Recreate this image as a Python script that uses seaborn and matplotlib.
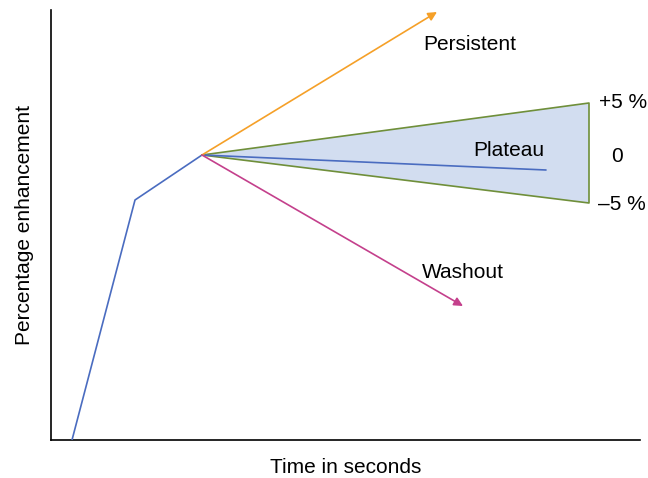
import matplotlib
matplotlib.use("Agg")
import matplotlib.pyplot as plt
import seaborn as sns
import pandas as pd

sns.set_theme(style="white")
plt.rcParams["font.family"] = ["Liberation Sans", "DejaVu Sans"]

# Initial uptake curve (time, enhancement) in arbitrary units
uptake_t = [21, 84, 151]
uptake_e = [0, 240, 285]

# Delayed-phase kinetic curves starting from the peak
peak = (151, 285)
persistent_end = (386, 428)
washout_end = (412, 134)
plateau_end = (495, 270)
plateau_upper = (538, 337)
plateau_lower = (538, 237)

band_labels = ["+5 %", "0", "\u20135 %"]
band_levels = [338, 285, 236]
band_x = [572, 566, 571]

blue = "#4a6cc0"
orange = "#f5a028"
magenta = "#c4408c"
green = "#6f8f3a"
fill = "#d2ddf0"

fig = plt.figure(figsize=(6.48, 4.78), dpi=100)
ax = fig.add_axes([51 / 648, 38 / 478, 589 / 648, 430 / 478])

# plateau band
ax.fill([peak[0], plateau_upper[0], plateau_lower[0]],
        [peak[1], plateau_upper[1], plateau_lower[1]],
        facecolor=fill, edgecolor="none", zorder=1)
band = pd.DataFrame({"t": [peak[0], plateau_upper[0], plateau_lower[0], peak[0]],
                     "e": [peak[1], plateau_upper[1], plateau_lower[1], peak[1]]})
ax.plot(band["t"], band["e"], color=green, lw=1.2, zorder=2)

uptake = pd.DataFrame({"t": uptake_t, "e": uptake_e})
sns.lineplot(data=uptake, x="t", y="e", ax=ax, color=blue, lw=1.2, sort=False, zorder=3)

plateau = pd.DataFrame({"t": [peak[0], plateau_end[0]], "e": [peak[1], plateau_end[1]]})
sns.lineplot(data=plateau, x="t", y="e", ax=ax, color=blue, lw=1.2, sort=False, zorder=3)

for end, col in [(persistent_end, orange), (washout_end, magenta)]:
    ax.annotate("", xy=end, xytext=peak,
                arrowprops=dict(arrowstyle="-|>", color=col, lw=1.2,
                                mutation_scale=13, shrinkA=0, shrinkB=0),
                zorder=3)

fs = 15
tc = "black"
ax.text(419, 395, "Persistent", fontsize=fs, ha="center", va="center", color=tc)
ax.text(458, 289, "Plateau", fontsize=fs, ha="center", va="center", color=tc)
ax.text(412, 168, "Washout", fontsize=fs, ha="center", va="center", color=tc)
for lab, lev, bx in zip(band_labels, band_levels, band_x):
    ax.text(bx, lev - 1, lab, fontsize=fs, ha="center", va="center", color=tc)

ax.set_xlim(0, 589)
ax.set_ylim(0, 430)
ax.set_xticks([])
ax.set_yticks([])
ax.set_xlabel("Time in seconds", fontsize=fs, labelpad=13, color=tc)
ax.set_ylabel("Percentage enhancement", fontsize=fs, labelpad=12, color=tc)
for s in ["top", "right"]:
    ax.spines[s].set_visible(False)
for s in ["left", "bottom"]:
    ax.spines[s].set_color("black")
    ax.spines[s].set_linewidth(1.2)

fig.savefig("out.png", dpi=100)
